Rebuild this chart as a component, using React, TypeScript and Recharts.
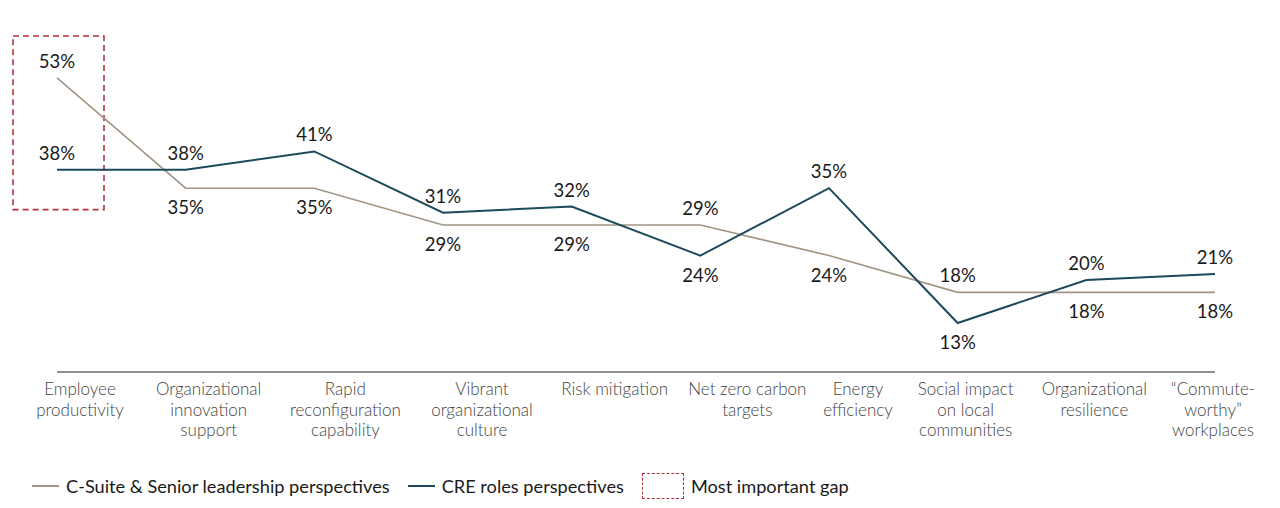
import { LineChart, Line, XAxis, YAxis, LabelList, ReferenceArea } from "recharts";

// categories ("\n" marks the line breaks of the axis labels)
const CATEGORIES = [
  "Employee\nproductivity",
  "Organizational\ninnovation\nsupport",
  "Rapid\nreconfiguration\ncapability",
  "Vibrant\norganizational\nculture",
  "Risk mitigation",
  "Net zero carbon\ntargets",
  "Energy\nefficiency",
  "Social impact\non local\ncommunities",
  "Organizational\nresilience",
  "\u201cCommute-\nworthy\u201d\nworkplaces",
];

const C_SUITE = [53, 35, 35, 29, 29, 29, 24, 18, 18, 18];
const CRE = [38, 38, 41, 31, 32, 24, 35, 13, 20, 21];

const SERIES_NAMES = ["C-Suite & Senior leadership perspectives", "CRE roles perspectives"];
const GAP_LABEL = "Most important gap";
const GAP_INDEX = 0;
const GAP_FLOOR = 31.5;

const data = CATEGORIES.map((category, i) => ({
  category,
  csuite: C_SUITE[i],
  cre: CRE[i],
}));

const FONT = "Lato, 'Open Sans', sans-serif";
const TAUPE = "#a39485";
const TEAL = "#1c4a5a";
const GAP_RED = "#b5323e";

// horizontal nudge of each axis label relative to its point
const TICK_SHIFT = [23, 23, 31, 39, 43, 47, 29, 8, 8, -2];

function CategoryTick(props: any) {
  const { x, y, payload, index } = props;
  const lines = String(payload.value).split("\n");
  const cx = x + (TICK_SHIFT[index] ?? 0);
  return (
    <text x={cx} y={y + 15} textAnchor="middle" fontSize={17} fontFamily={FONT} fontWeight={300} fill="#444">
      {lines.map((line, i) => (
        <tspan key={i} x={cx} dy={i === 0 ? 0 : 20.5}>
          {line}
        </tspan>
      ))}
    </text>
  );
}

const makeValueLabel = (own: number[], other: number[]) => (props: any) => {
  const { x, y, index } = props;
  const above = index === GAP_INDEX || own[index] > other[index];
  return (
    <text
      x={x}
      y={above ? y - 10 : y + 26}
      textAnchor="middle"
      fontSize={18.5}
      fontFamily={FONT}
      fill="#1a1a1a"
    >
      {own[index]}%
    </text>
  );
};

function GapBox(props: any) {
  const { x, y, height } = props;
  return (
    <rect
      x={x - 44}
      y={y + 1}
      width={91}
      height={height - 1}
      fill="none"
      stroke={GAP_RED}
      strokeWidth={1.6}
      strokeDasharray="6 4"
    />
  );
}

function LegendRow() {
  const item = { display: "flex", alignItems: "center", marginRight: 18 } as const;
  const line = (color: string) => (
    <span style={{ display: "inline-block", width: 27, height: 0, borderTop: `2px solid ${color}`, marginRight: 7 }} />
  );
  return (
    <div
      style={{
        display: "flex",
        alignItems: "center",
        height: 26,
        marginTop: 15,
        paddingLeft: 24,
        fontFamily: FONT,
        fontSize: 18.2,
        color: "#1a1a1a",
      }}
    >
      <div style={item}>
        {line(TAUPE)}
        {SERIES_NAMES[0]}
      </div>
      <div style={item}>
        {line(TEAL)}
        {SERIES_NAMES[1]}
      </div>
      <div style={item}>
        <span
          style={{
            display: "inline-block",
            width: 42,
            height: 26,
            border: `1.6px dashed ${GAP_RED}`,
            marginRight: 7,
            boxSizing: "border-box",
          }}
        />
        {GAP_LABEL}
      </div>
    </div>
  );
}

export default function App() {
  return (
    <div style={{ width: 1264, height: 492, background: "#fff" }}>
      <LineChart width={1264} height={450} data={data} margin={{ top: 27, right: 57, bottom: 0, left: 49 }}>
        <XAxis
          dataKey="category"
          axisLine={{ stroke: "#6b6b6b", strokeWidth: 1.5 }}
          tickLine={false}
          interval={0}
          height={86}
          tick={<CategoryTick />}
        />
        <YAxis hide domain={[5, 60]} />
        <ReferenceArea
          x1={CATEGORIES[GAP_INDEX]}
          x2={CATEGORIES[GAP_INDEX]}
          y1={GAP_FLOOR}
          y2={60}
          ifOverflow="visible"
          shape={<GapBox />}
        />
        <Line
          dataKey="csuite"
          name={SERIES_NAMES[0]}
          stroke={TAUPE}
          strokeWidth={1.6}
          dot={false}
          isAnimationActive={false}
        >
          <LabelList dataKey="csuite" content={makeValueLabel(C_SUITE, CRE)} />
        </Line>
        <Line
          dataKey="cre"
          name={SERIES_NAMES[1]}
          stroke={TEAL}
          strokeWidth={2}
          dot={false}
          isAnimationActive={false}
        >
          <LabelList dataKey="cre" content={makeValueLabel(CRE, C_SUITE)} />
        </Line>
      </LineChart>
      <LegendRow />
    </div>
  );
}
